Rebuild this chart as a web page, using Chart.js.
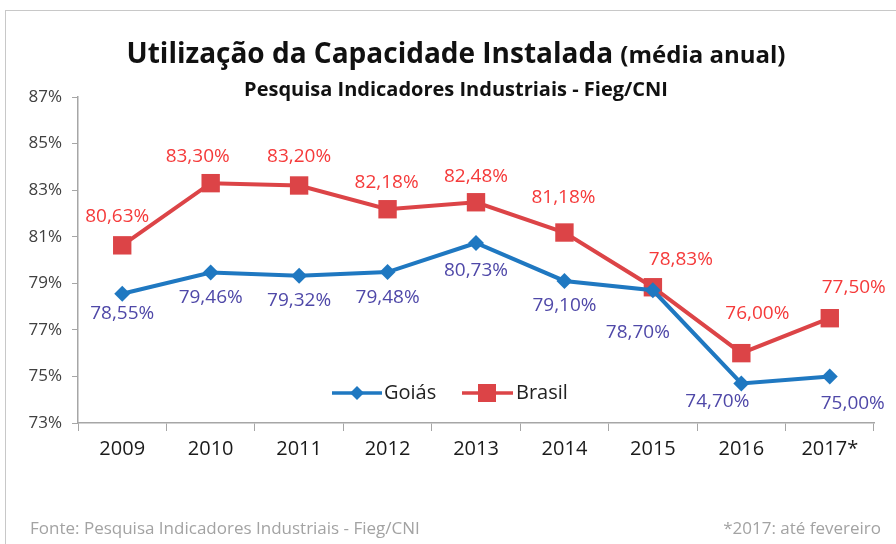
<!DOCTYPE html>
<html>
<head>
<meta charset="utf-8">
<script src="https://cdn.jsdelivr.net/npm/chart.js@4"></script>
<style>
  html, body { margin: 0; padding: 0; background: #fff; }
  #wrap { position: relative; width: 896px; height: 544px; }
  #frame { position: absolute; left: 5px; top: 10px; width: 900px; height: 540px; border: 1.5px solid #c8c8c8; box-sizing: border-box; }
</style>
</head>
<body>
<div id="wrap">
  <div id="frame"></div>
  <canvas id="myChart" width="896" height="544"></canvas>
</div>
<script>
var years = ['2009', '2010', '2011', '2012', '2013', '2014', '2015', '2016', '2017*'];
var goias = [78.55, 79.46, 79.32, 79.48, 80.73, 79.10, 78.70, 74.70, 75.00];
var brasil = [80.63, 83.30, 83.20, 82.18, 82.48, 81.18, 78.83, 76.00, 77.50];
var yTicks = [73, 75, 77, 79, 81, 83, 85, 87];

var fmt = function (v) { return v.toFixed(2).replace('.', ',') + '%'; };

// label nudges [dx, dy] from each point, as in the original sheet
var goiasOffsets = [[0, 20], [0, 25], [0, 25], [0, 25], [0, 28], [0, 25], [-15, 42], [-24, 18], [23, 27]];
var brasilOffsets = [[-5, -29], [-13, -27], [0, -29], [-1, -27], [0, -26], [-1, -35], [28, -28], [16, -40], [24, -31]];

var textPlugin = {
    id: 'texts',
    afterDatasetsDraw: function (chart) {
        var ctx = chart.ctx;
        ctx.save();
        ctx.textAlign = 'center';
        ctx.textBaseline = 'middle';
        ctx.font = '19px "Open Sans"';
        [[0, '#4f48a8', goiasOffsets], [1, '#f53a3a', brasilOffsets]].forEach(function (d) {
            var meta = chart.getDatasetMeta(d[0]);
            ctx.fillStyle = d[1];
            meta.data.forEach(function (pt, i) {
                var v = chart.data.datasets[d[0]].data[i];
                ctx.fillText(fmt(v), pt.x + d[2][i][0], pt.y + d[2][i][1]);
            });
        });

        // title
        ctx.fillStyle = '#111';
        ctx.textBaseline = 'alphabetic';
        var t1 = 'Utilização da Capacidade Instalada ';
        var t2 = '(média anual)';
        ctx.font = 'bold 28px "Open Sans"';
        var w1 = ctx.measureText(t1).width;
        ctx.font = 'bold 24px "Open Sans"';
        var w2 = ctx.measureText(t2).width;
        var x0 = 456 - (w1 + w2) / 2;
        ctx.textAlign = 'left';
        ctx.font = 'bold 28px "Open Sans"';
        ctx.fillText(t1, x0, 63);
        ctx.font = 'bold 24px "Open Sans"';
        ctx.fillText(t2, x0 + w1, 63);
        ctx.textAlign = 'center';
        ctx.font = 'bold 20px "Open Sans"';
        ctx.fillText('Pesquisa Indicadores Industriais - Fieg/CNI', 456, 96);

        // legend inside plot
        var lx = 332, ly = 393;
        var ds = chart.data.datasets;
        ctx.lineWidth = 3.5;
        ctx.strokeStyle = ds[0].borderColor;
        ctx.beginPath(); ctx.moveTo(lx, ly); ctx.lineTo(lx + 50, ly); ctx.stroke();
        ctx.fillStyle = ds[0].borderColor;
        ctx.beginPath(); ctx.moveTo(lx + 25, ly - 7); ctx.lineTo(lx + 32, ly); ctx.lineTo(lx + 25, ly + 7); ctx.lineTo(lx + 18, ly); ctx.closePath(); ctx.fill();
        ctx.fillStyle = '#222';
        ctx.textAlign = 'left';
        ctx.textBaseline = 'middle';
        ctx.font = '20px "Open Sans"';
        ctx.fillText('Goiás', lx + 52, ly);
        var bx = 462;
        ctx.strokeStyle = ds[1].borderColor;
        ctx.beginPath(); ctx.moveTo(bx, ly); ctx.lineTo(bx + 51, ly); ctx.stroke();
        ctx.fillStyle = ds[1].borderColor;
        ctx.fillRect(bx + 16, ly - 9, 18, 18);
        ctx.fillStyle = '#222';
        ctx.fillText('Brasil', bx + 54, ly);

        // footer
        ctx.fillStyle = '#a3a3a3';
        ctx.font = '17px "Open Sans"';
        ctx.fillText('Fonte: Pesquisa Indicadores Industriais - Fieg/CNI', 30, 529);
        ctx.textAlign = 'right';
        ctx.fillText('*2017: até fevereiro', 881, 529);
        ctx.restore();
    }
};

var ctx = document.getElementById('myChart').getContext('2d');
var myChart = new Chart(ctx, {
    type: 'line',
    data: {
        labels: years,
        datasets: [{
            label: 'Goiás',
            data: goias,
            borderColor: '#1f78c1',
            backgroundColor: '#1f78c1',
            borderWidth: 4,
            pointBorderWidth: 0,
            pointStyle: 'rectRot',
            pointRadius: 8,
            pointHoverRadius: 8,
            tension: 0
        }, {
            label: 'Brasil',
            data: brasil,
            borderColor: '#dc4447',
            backgroundColor: '#dc4447',
            borderWidth: 4,
            pointBorderWidth: 0,
            pointStyle: 'rect',
            pointRadius: 13,
            pointHoverRadius: 13,
            tension: 0
        }]
    },
    options: {
        responsive: false,
        animation: false,
        layout: { padding: { left: 0, right: 22, top: 97, bottom: 0 } },
        plugins: {
            legend: { display: false },
            tooltip: { enabled: false }
        },
        scales: {
            x: {
                offset: true,
                grid: { display: true, offset: true, drawOnChartArea: false, tickLength: 8, color: '#a6a6a6' },
                border: { color: '#a6a6a6', width: 1.5 },
                ticks: { color: '#1a1a1a', font: { size: 20, family: '"Open Sans"' }, padding: 6, maxRotation: 0 },
                afterFit: function (s) { s.height = 121; }
            },
            y: {
                min: 73,
                max: 87,
                afterBuildTicks: function (s) { s.ticks = yTicks.map(function (v) { return { value: v }; }); },
                grid: { display: true, drawOnChartArea: false, tickLength: 6, color: '#a6a6a6' },
                border: { color: '#a6a6a6', width: 1.5 },
                ticks: { color: '#404040', font: { size: 17, family: '"Open Sans"' }, padding: 10, callback: function (v) { return v + '%'; } },
                afterFit: function (s) { s.width = 78; }
            }
        }
    },
    plugins: [textPlugin]
});
</script>
</body>
</html>
